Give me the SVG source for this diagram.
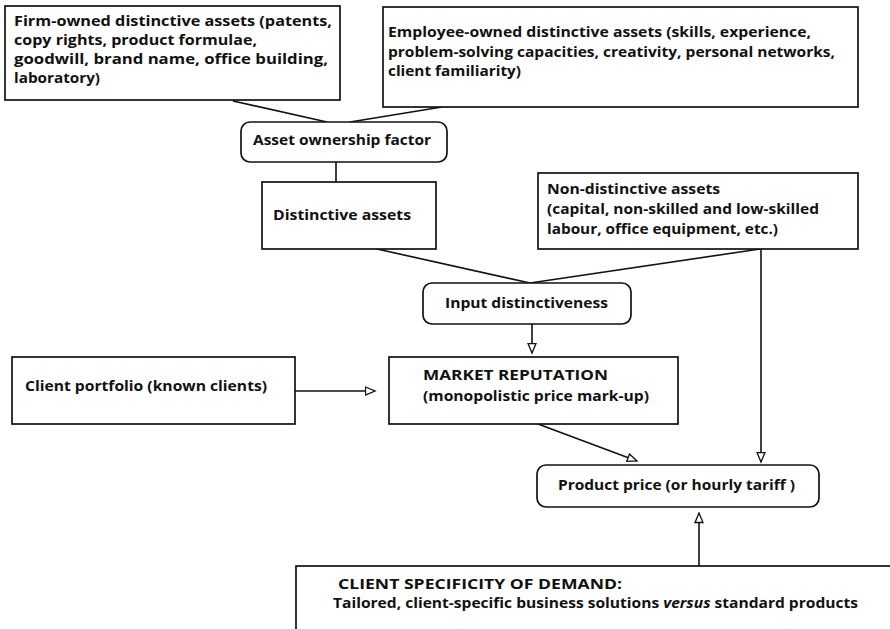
<svg xmlns="http://www.w3.org/2000/svg" width="890" height="629" viewBox="0 0 890 629">
<style>
.box{fill:#fff;stroke:#111;stroke-width:1.7}
.ln{fill:none;stroke:#111;stroke-width:1.6}
text{font-family:"Open Sans","Noto Sans","DejaVu Sans",sans-serif;font-weight:700;font-size:14.5px;fill:#111}
</style>
<defs>
<marker id="ah" markerUnits="userSpaceOnUse" markerWidth="12" markerHeight="12" viewBox="0 0 12 12" refX="10.5" refY="5" orient="auto">
<path d="M1,1 L10.5,5 L1,9 z" fill="#fff" stroke="#111" stroke-width="1.3"/>
</marker>
</defs>
<rect width="890" height="629" fill="#fff"/>
<g id="connectors">
<line class="ln" x1="233" y1="101" x2="327" y2="122"/>
<line class="ln" x1="442" y1="107" x2="350" y2="122"/>
<line class="ln" x1="336" y1="162" x2="336" y2="182"/>
<line class="ln" x1="377" y1="249" x2="530" y2="283"/>
<line class="ln" x1="760" y1="249" x2="530" y2="283"/>
<line class="ln" x1="532" y1="324" x2="532" y2="353" marker-end="url(#ah)"/>
<line class="ln" x1="295" y1="391" x2="375" y2="391" marker-end="url(#ah)"/>
<line class="ln" x1="538" y1="424" x2="637" y2="461" marker-end="url(#ah)"/>
<line class="ln" x1="761" y1="249" x2="761" y2="462" marker-end="url(#ah)"/>
<line class="ln" x1="699" y1="566" x2="699" y2="513" marker-end="url(#ah)"/>
</g>
<g id="firm-owned">
<rect class="box" x="5" y="6" width="335" height="94"/>
<text x="14" y="26" textLength="318" lengthAdjust="spacingAndGlyphs">Firm-owned distinctive assets (patents,</text>
<text x="14" y="45" textLength="243" lengthAdjust="spacingAndGlyphs">copy rights, product formulae,</text>
<text x="14" y="64" textLength="314" lengthAdjust="spacingAndGlyphs">goodwill, brand name, office building,</text>
<text x="14" y="83" textLength="86" lengthAdjust="spacingAndGlyphs">laboratory)</text>
</g>
<g id="employee-owned">
<rect class="box" x="383" y="7" width="475" height="100"/>
<text x="388" y="37" textLength="423" lengthAdjust="spacingAndGlyphs">Employee-owned distinctive assets (skills, experience,</text>
<text x="388" y="56.5" textLength="447" lengthAdjust="spacingAndGlyphs">problem-solving capacities, creativity, personal networks,</text>
<text x="388" y="76" textLength="133" lengthAdjust="spacingAndGlyphs">client familiarity)</text>
</g>
<g id="asset-ownership">
<rect class="box" x="241" y="122" width="206" height="40" rx="9"/>
<text x="253" y="145" textLength="178" lengthAdjust="spacingAndGlyphs">Asset ownership factor</text>
</g>
<g id="distinctive">
<rect class="box" x="262" y="182" width="174" height="67"/>
<text x="273" y="220" textLength="138" lengthAdjust="spacingAndGlyphs">Distinctive assets</text>
</g>
<g id="non-distinctive">
<rect class="box" x="538" y="173" width="320" height="76"/>
<text x="547" y="194" textLength="173" lengthAdjust="spacingAndGlyphs">Non-distinctive assets</text>
<text x="547" y="214" textLength="272" lengthAdjust="spacingAndGlyphs">(capital, non-skilled and low-skilled</text>
<text x="547" y="234" textLength="231" lengthAdjust="spacingAndGlyphs">labour, office equipment, etc.)</text>
</g>
<g id="input-distinctiveness">
<rect class="box" x="423" y="283" width="208" height="41" rx="9"/>
<text x="445" y="308" textLength="163" lengthAdjust="spacingAndGlyphs">Input distinctiveness</text>
</g>
<g id="client-portfolio">
<rect class="box" x="12" y="357" width="283" height="67"/>
<text x="25" y="391" textLength="242" lengthAdjust="spacingAndGlyphs">Client portfolio (known clients)</text>
</g>
<g id="market-reputation">
<rect class="box" x="389" y="357" width="289" height="67"/>
<text x="423" y="380" textLength="185" lengthAdjust="spacingAndGlyphs">MARKET REPUTATION</text>
<text x="423" y="401" textLength="226" lengthAdjust="spacingAndGlyphs">(monopolistic price mark-up)</text>
</g>
<g id="product-price">
<rect class="box" x="537" y="465" width="282" height="42" rx="9"/>
<text x="558" y="490" textLength="237" lengthAdjust="spacingAndGlyphs">Product price (or hourly tariff )</text>
</g>
<g id="client-specificity">
<rect class="box" x="296" y="566" width="610" height="80"/>
<text x="338" y="589" textLength="284" lengthAdjust="spacingAndGlyphs">CLIENT SPECIFICITY OF DEMAND:</text>
<text x="333" y="608" textLength="525" lengthAdjust="spacingAndGlyphs">Tailored, client-specific business solutions <tspan font-style="italic">versus</tspan> standard products</text>
</g>
</svg>
